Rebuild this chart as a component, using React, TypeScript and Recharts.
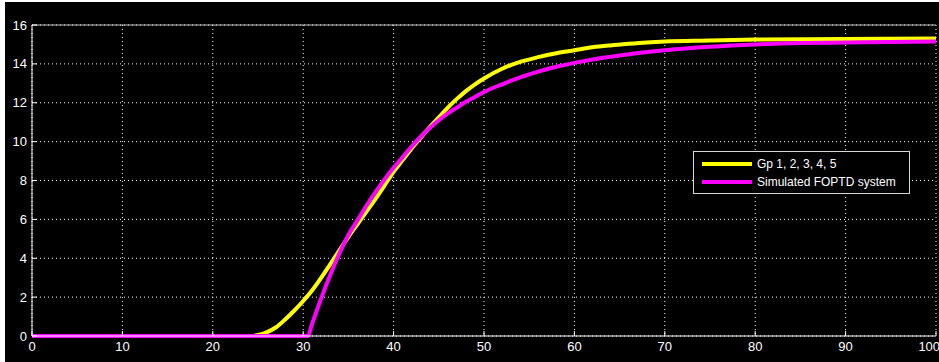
import { LineChart, Line, XAxis, YAxis, CartesianGrid, ReferenceLine } from "recharts";

// step response: higher order model (Gp 1..5)
const gpTime = [0, 20, 24, 25, 26, 27, 28, 29, 30, 31, 32, 33, 34, 35, 36, 37, 38, 39, 40, 41, 42, 43, 44, 45, 46, 47, 48, 49, 50, 52, 54, 56, 58, 60, 62, 64, 66, 68, 70, 75, 80, 90, 100];
const gpValue = [0, 0, 0, 0.05, 0.2, 0.45, 0.85, 1.3, 1.8, 2.35, 3.0, 3.7, 4.4, 5.1, 5.75, 6.4, 7.05, 7.75, 8.45, 9.05, 9.65, 10.2, 10.75, 11.25, 11.75, 12.2, 12.6, 12.95, 13.25, 13.75, 14.1, 14.35, 14.55, 14.7, 14.85, 14.95, 15.03, 15.1, 15.15, 15.2, 15.25, 15.28, 15.3];

// simulated first order plus dead time response
const foptdTime = [0, 20, 30.5, 31, 32, 33, 34, 35, 36, 37, 38, 39, 40, 41, 42, 43, 44, 45, 46, 47, 48, 49, 50, 52, 54, 56, 58, 60, 63, 66, 70, 75, 80, 85, 90, 100];
const foptdValue = [0, 0, 0, 0.65, 1.95, 3.15, 4.25, 5.2, 5.95, 6.7, 7.4, 8.05, 8.65, 9.2, 9.75, 10.25, 10.7, 11.1, 11.45, 11.75, 12.05, 12.3, 12.55, 12.95, 13.3, 13.6, 13.85, 14.05, 14.3, 14.5, 14.7, 14.88, 15.0, 15.07, 15.1, 15.15];

const xTicks = [0, 10, 20, 30, 40, 50, 60, 70, 80, 90, 100];
const yTicks = [0, 2, 4, 6, 8, 10, 12, 14, 16];

const seriesNames = ["Gp 1, 2, 3, 4, 5", "Simulated FOPTD system"];
const seriesColors = ["#ffff00", "#ff00ff"];

const gpData = gpTime.map((t, i) => ({ t, y: gpValue[i] }));
const foptdData = foptdTime.map((t, i) => ({ t, y: foptdValue[i] }));

const tickFont = { fill: "#ffffff", fontSize: 13, fontFamily: "Liberation Sans, Arial, sans-serif" };

const LegendBox = () => (
  <div
    style={{
      position: "absolute",
      left: 693,
      top: 151,
      width: 217,
      height: 43,
      border: "1px solid #d8d8d8",
      background: "#000",
      boxSizing: "border-box",
      padding: "3px 0 0 8px",
      fontFamily: "Liberation Sans, Arial, sans-serif",
      fontSize: 12,
      color: "#ffffff",
    }}
  >
    {seriesNames.map((name, i) => (
      <div key={name} style={{ display: "flex", alignItems: "center", height: 18 }}>
        <div style={{ width: 50, height: 4, background: seriesColors[i], marginRight: 5 }} />
        <span>{name}</span>
      </div>
    ))}
  </div>
);

export default function App() {
  return (
    <div style={{ position: "absolute", left: 0, top: 0, width: 939, height: 362, background: "#000" }}>
      <div style={{ position: "absolute", left: 0, top: 0, width: 939, height: 2, background: "#fff" }} />
      <div style={{ position: "absolute", left: 0, top: 0, width: 5, height: 362, background: "#fff" }} />
      <div style={{ position: "absolute", left: 0, top: 0 }}>
        <LineChart width={939} height={362} margin={{ top: 25, right: 3, left: 0, bottom: 0 }}>
          <CartesianGrid stroke="#ffffff" strokeDasharray="1 3" />
          <XAxis
            dataKey="t"
            type="number"
            domain={[0, 100]}
            ticks={xTicks}
            height={26}
            allowDuplicatedCategory={false}
            stroke="#ffffff"
            tickSize={-5}
            tickMargin={11}
            tick={tickFont}
          />
          <XAxis
            xAxisId="top"
            orientation="top"
            dataKey="t"
            type="number"
            domain={[0, 100]}
            ticks={xTicks}
            height={0}
            stroke="#c0c0c0"
            tickSize={-5}
            tick={false}
          />
          <YAxis
            type="number"
            domain={[0, 16]}
            ticks={yTicks}
            width={32}
            stroke="#ffffff"
            tickSize={-5}
            tickMargin={10}
            tick={tickFont}
          />
          <YAxis
            yAxisId="right"
            orientation="right"
            type="number"
            domain={[0, 16]}
            ticks={yTicks}
            width={0}
            stroke="#c0c0c0"
            tickSize={-5}
            tick={false}
          />
          <Line
            data={gpData}
            dataKey="y"
            name={seriesNames[0]}
            stroke={seriesColors[0]}
            strokeWidth={4}
            dot={false}
            type="monotone"
            isAnimationActive={false}
          />
          <Line
            data={foptdData}
            dataKey="y"
            name={seriesNames[1]}
            stroke={seriesColors[1]}
            strokeWidth={4}
            dot={false}
            type="monotone"
            isAnimationActive={false}
          />
          <ReferenceLine y={16} stroke="#c0c0c0" />
        </LineChart>
      </div>
      <LegendBox />
    </div>
  );
}
